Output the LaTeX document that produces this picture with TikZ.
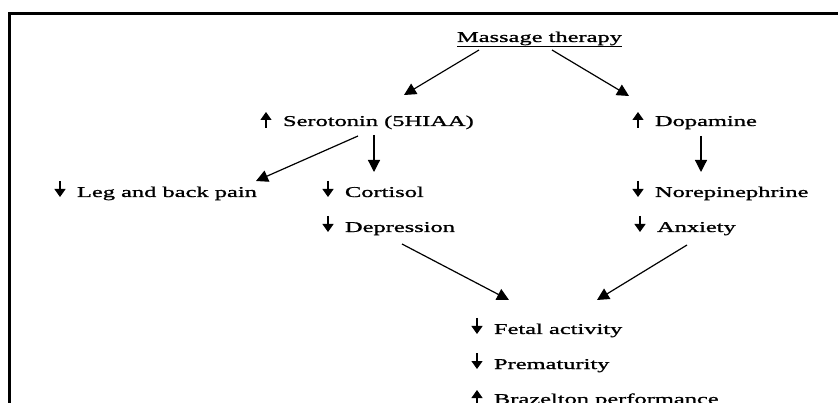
\documentclass[tikz,border=0pt]{standalone}
\usepackage{fontspec}
\setmainfont[FakeStretch=1.63,FakeBold=1.2]{Liberation Serif}
\usetikzlibrary{arrows.meta,calc}
\tikzset{
  lbl/.style={anchor=base west,inner sep=0pt,outer sep=0pt,font=\fontsize{15}{17}\selectfont},
  conn/.style={line width=1.2pt,-{Triangle[length=12pt,width=12pt]}},
  smallarr/.style={line width=1.3pt,-{Triangle[length=8pt,width=11pt]}},
}
\newcommand\arrdown[1]{\draw[smallarr] ($(#1.base west)+(-17,-16)$) -- ($(#1.base west)+(-17,0)$);}
\newcommand\arrup[1]{\draw[smallarr] ($(#1.base west)+(-17,2)$) -- ($(#1.base west)+(-17,-14)$);}
\begin{document}
\begin{tikzpicture}[x=1pt,y=-1pt]
\useasboundingbox (0,0) rectangle (838,403);
\draw[line width=2.4pt] (9.5,410) -- (9.5,13.5) -- (845,13.5);
% nodes
\node[lbl] (mas) at (457,42) {\underline{Massage therapy}};
\node[lbl] (ser) at (283,126) {Serotonin (5HIAA)};
\node[lbl] (dop) at (655,126) {Dopamine};
\node[lbl] (leg) at (77,197) {Leg and back pain};
\node[lbl] (cor) at (345,197) {Cortisol};
\node[lbl] (nor) at (655,197) {Norepinephrine};
\node[lbl] (dep) at (345,232) {Depression};
\node[lbl] (anx) at (657,232) {Anxiety};
\node[lbl] (fet) at (494,334) {Fetal activity};
\node[lbl] (pre) at (494,369) {Prematurity};
\node[lbl] (bra) at (494,404) {Brazelton performance};
% small arrows
\arrup{ser}
\arrup{dop}
\arrdown{leg}
\arrdown{cor}
\arrdown{nor}
\arrdown{dep}
\arrdown{anx}
\arrdown{fet}
\arrdown{pre}
\arrup{bra}
% connector end points
\coordinate (m1) at (479,50);
\coordinate (m2) at (552,50);
\coordinate (s0) at (404,95);
\coordinate (d0) at (629,96);
\coordinate (s1) at (358,136);
\coordinate (l0) at (256,181);
\coordinate (s2) at (374,135);
\coordinate (c0) at (374,172);
\coordinate (p1) at (701,136);
\coordinate (n0) at (701,172);
\coordinate (e1) at (402,244);
\coordinate (f1) at (509,300);
\coordinate (a1) at (687,245);
\coordinate (f2) at (597,300);
% connectors
\draw[conn] (m1) -- (s0);
\draw[conn] (m2) -- (d0);
\draw[conn] (s1) -- (l0);
\draw[conn] (s2) -- (c0);
\draw[conn] (p1) -- (n0);
\draw[conn] (e1) -- (f1);
\draw[conn] (a1) -- (f2);
\end{tikzpicture}
\end{document}
